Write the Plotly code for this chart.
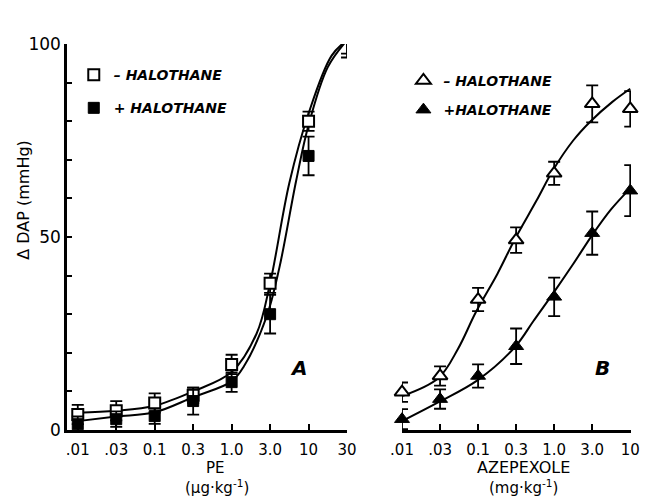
import plotly.graph_objects as go

# ---------------- data ----------------
pe_labels = [".01", ".03", "0.1", "0.3", "1.0", "3.0", "10", "30"]
pe_minus = [4.0, 5.0, 7.0, 9.0, 17.0, 38.0, 80.0, 102.0]
pe_minus_err = [2.5, 2.5, 2.5, 2.0, 2.5, 2.5, 2.5, 4.5]
pe_plus = [1.5, 2.8, 3.6, 7.5, 12.4, 30.0, 71.0, 101.0]
pe_plus_err = [2.0, 2.0, 2.0, 3.5, 2.5, 5.0, 5.0, 4.5]

# fitted curves (positions in dose-step units)
pe_fit_minus_pos = [0, 1, 2, 3, 4, 4.65, 5, 5.5, 6, 6.6, 7]
pe_fit_minus_val = [4.5, 5.0, 6.3, 10.0, 15.0, 25.0, 38.0, 64.0, 82.0, 97.0, 101.0]
pe_fit_plus_pos = [0, 1, 2, 3, 4, 4.32, 4.91, 5.24, 5.68, 6, 6.5, 7]
pe_fit_plus_val = [2.3, 3.5, 4.6, 8.5, 12.6, 16.5, 29.4, 42.0, 64.7, 79.0, 94.0, 101.0]

az_labels = [".01", ".03", "0.1", "0.3", "1.0", "3.0", "10"]
az_minus = [9.8, 14.0, 33.8, 49.2, 66.5, 84.5, 83.2]
az_minus_err = [2.5, 2.5, 3.0, 3.3, 3.0, 4.8, 4.6]
az_plus = [2.8, 8.0, 14.0, 21.7, 34.5, 51.0, 62.0]
az_plus_err = [2.6, 2.5, 3.0, 4.6, 5.0, 5.6, 6.6]

az_fit_minus_pos = [0, 0.96, 1.47, 1.94, 2.51, 2.97, 3.54, 3.98, 4.5, 4.96, 5.53, 6.0]
az_fit_minus_val = [8.8, 13.5, 21.0, 30.5, 40.5, 49.5, 59.5, 67.5, 75.0, 80.0, 85.0, 88.4]
az_fit_plus_pos = [0, 0.96, 2, 2.97, 3.46, 4, 4.5, 5, 5.5, 6]
az_fit_plus_val = [2.3, 7.2, 13.0, 21.5, 28.3, 35.8, 43.0, 50.5, 57.2, 62.6]

y_ticks = [0, 10, 20, 30, 40, 50, 60, 70, 80, 90, 100]
y_ticktext = ["0", "", "", "", "", "50", "", "", "", "", "100"]

FONT = "DejaVu Sans"
BLACK = "black"

fig = go.Figure()

def err(arr):
    return dict(type="data", array=arr, visible=True, color=BLACK, thickness=1.8, width=6)

# ---- panel A curves ----
for pos, val in [(pe_fit_minus_pos, pe_fit_minus_val), (pe_fit_plus_pos, pe_fit_plus_val)]:
    fig.add_trace(go.Scatter(x=pos, y=val, mode="lines",
                             line=dict(color=BLACK, width=2, shape="spline", smoothing=1.0),
                             showlegend=False, hoverinfo="skip", xaxis="x", yaxis="y"))
# ---- panel B curves ----
for pos, val in [(az_fit_minus_pos, az_fit_minus_val), (az_fit_plus_pos, az_fit_plus_val)]:
    fig.add_trace(go.Scatter(x=pos, y=val, mode="lines",
                             line=dict(color=BLACK, width=2, shape="spline", smoothing=1.0),
                             showlegend=False, hoverinfo="skip", xaxis="x2", yaxis="y2"))

# ---- panel A points ----
fig.add_trace(go.Scatter(x=list(range(len(pe_labels))), y=pe_minus, mode="markers",
                         error_y=err(pe_minus_err),
                         marker=dict(symbol="square", size=11, color="white", line=dict(color=BLACK, width=2)),
                         name="– HALOTHANE", legendgroup="a1", legend="legend",
                         cliponaxis=False, xaxis="x", yaxis="y"))
fig.add_trace(go.Scatter(x=list(range(len(pe_labels))), y=pe_plus, mode="markers",
                         error_y=err(pe_plus_err),
                         marker=dict(symbol="square", size=11, color=BLACK, line=dict(color=BLACK, width=1)),
                         name="+ HALOTHANE", legendgroup="a2", legend="legend",
                         cliponaxis=False, xaxis="x", yaxis="y"))
# ---- panel B points ----
fig.add_trace(go.Scatter(x=list(range(len(az_labels))), y=az_minus, mode="markers",
                         error_y=err(az_minus_err),
                         marker=dict(symbol="triangle-up", size=13, color="white", line=dict(color=BLACK, width=2)),
                         name="– HALOTHANE", legendgroup="b1", legend="legend2",
                         cliponaxis=False, xaxis="x2", yaxis="y2"))
fig.add_trace(go.Scatter(x=list(range(len(az_labels))), y=az_plus, mode="markers",
                         error_y=err(az_plus_err),
                         marker=dict(symbol="triangle-up", size=13, color=BLACK, line=dict(color=BLACK, width=1)),
                         name="+HALOTHANE", legendgroup="b2", legend="legend2",
                         cliponaxis=False, xaxis="x2", yaxis="y2"))

axis_common = dict(showgrid=False, zeroline=False, showline=True, linecolor=BLACK,
                   ticks="inside", tickcolor=BLACK)

legend_font = dict(family=FONT, size=14, color=BLACK, style="italic", weight="bold")


def px_x(px):
    return (px - 67) / 574


def px_y(py):
    return (430 - py) / 386


def label(text, x, y, size, **kw):
    font = dict(family=FONT, size=size, color=BLACK)
    font.update(kw.pop("font", {}))
    return dict(text=text, xref="paper", yref="paper", x=px_x(x), y=px_y(y),
                xanchor="center", yanchor="middle", showarrow=False, font=font, **kw)


# page body has an 8px margin: figure is sized to the remaining window
fig.update_layout(
    width=644, height=488,
    margin=dict(l=59, r=11, t=36, b=66),
    paper_bgcolor="white", plot_bgcolor="white",
    font=dict(family=FONT, color=BLACK),
    xaxis=dict(domain=[0, 0.4965], range=[-0.28, 7.0], tickmode="array",
               tickvals=list(range(len(pe_labels))), ticktext=pe_labels,
               linewidth=3, ticklen=6, tickwidth=2, anchor="y", ticklabelstandoff=4,
               tickfont=dict(family=FONT, size=15, color=BLACK), **axis_common),
    yaxis=dict(domain=[0, 1], range=[0, 100], tickmode="array", tickvals=y_ticks,
               ticktext=y_ticktext, linewidth=2.5, ticklen=5, tickwidth=2, anchor="x",
               tickfont=dict(family=FONT, size=17, color=BLACK), **axis_common),
    xaxis2=dict(domain=[0.594, 1.0], range=[0, 6.02], tickmode="array",
                tickvals=list(range(len(az_labels))), ticktext=az_labels,
                linewidth=3, ticklen=6, tickwidth=2, anchor="y2", ticklabelstandoff=4,
                tickfont=dict(family=FONT, size=15, color=BLACK), **axis_common),
    yaxis2=dict(domain=[0, 1], range=[0, 100], visible=False, anchor="x2"),
    legend=dict(x=0.012, xanchor="left", y=0.961, yanchor="top", bgcolor="rgba(0,0,0,0)",
                font=legend_font, tracegroupgap=12, itemclick=False),
    legend2=dict(x=0.5965, xanchor="left", y=0.946, yanchor="top", bgcolor="rgba(0,0,0,0)",
                 font=legend_font, tracegroupgap=8, itemclick=False),
    annotations=[
        label("Δ DAP (mmHg)", 22, 200, 16, textangle=-90),
        label("PE", 218, 468, 15),
        label("(μg·kg<sup>-1</sup>)", 220, 487, 15),
        label("AZEPEXOLE", 532, 468, 16),
        label("(mg·kg<sup>-1</sup>)", 532, 487, 15),
        label("A", 303, 368, 20, font=dict(style="italic", weight="bold")),
        label("B", 612, 368, 20, font=dict(style="italic", weight="bold")),
    ],
)

fig.write_html("out.html")
